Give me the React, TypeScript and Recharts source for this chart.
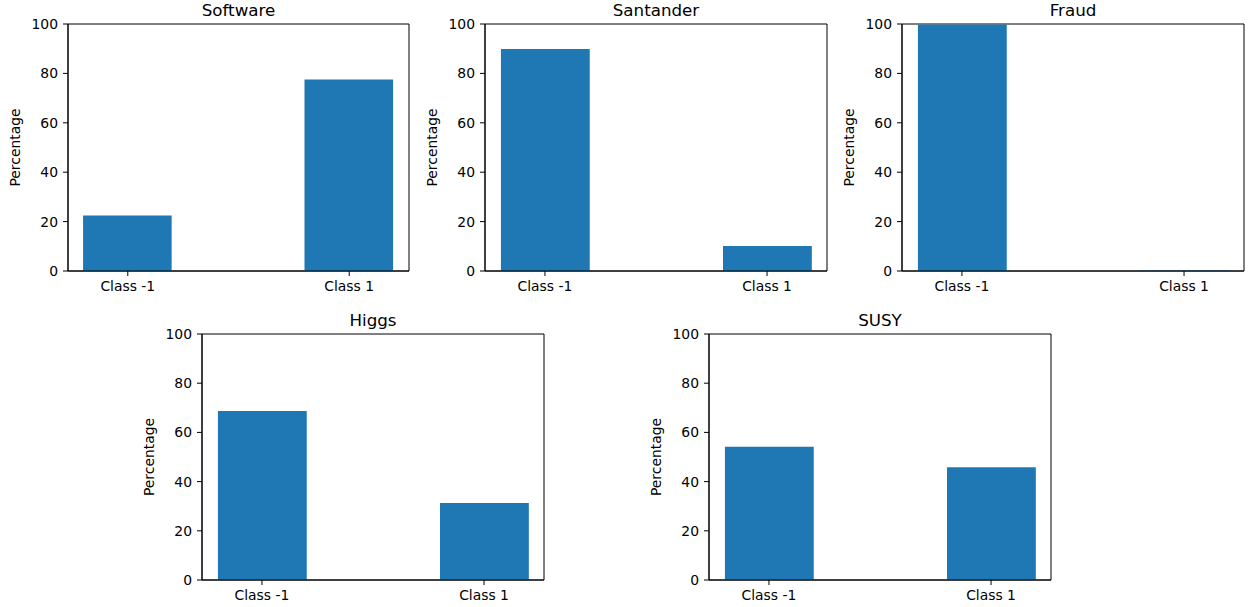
import React from 'react';
import { BarChart, Bar, XAxis, YAxis, Label, ReferenceArea } from 'recharts';

const CATEGORIES = ['Class -1', 'Class 1'];
const CATEGORY_POS = [0, 1];
const Y_TICKS = [0, 20, 40, 60, 80, 100];
const TITLES = ['Software', 'Santander', 'Fraud', 'Higgs', 'SUSY'];
const SOFTWARE = [22.5, 77.5];
const SANTANDER = [89.9, 10.1];
const FRAUD = [99.83, 0.17];
const HIGGS = [68.7, 31.3];
const SUSY = [54.2, 45.8];
const SERIES = [SOFTWARE, SANTANDER, FRAUD, HIGGS, SUSY];

// plot rectangles (layout only)
const LAYOUT = [
  { left: 68, top: 24, w: 341, h: 247 },
  { left: 485, top: 24, w: 342, h: 247 },
  { left: 902, top: 24, w: 342, h: 247 },
  { left: 202, top: 334, w: 342, h: 246 },
  { left: 709, top: 334, w: 342, h: 246 },
];

const FONT = '"DejaVu Sans", sans-serif';
const BLUE = '#1f77b4';
const X_DOMAIN: [number, number] = [-0.27, 1.27];
const Y_DOMAIN: [number, number] = [0, 100];
const BAR_WIDTH_UNITS = 0.4;
const Y_AXIS_W = 60;
const X_AXIS_H = 40;
const TOP_M = 10;
const RIGHT_M = 10;

const YLabel = (props: any) => {
  const vb = props.viewBox || {};
  const cx = vb.x + vb.width - 53;
  const cy = vb.y + vb.height / 2;
  return (
    <text
      x={cx}
      y={cy}
      transform={`rotate(-90, ${cx}, ${cy})`}
      textAnchor="middle"
      dominantBaseline="central"
      fontFamily={FONT}
      fontSize={13.9}
      fill="#000"
    >
      Percentage
    </text>
  );
};

function Panel({ idx }: { idx: number }) {
  const r = LAYOUT[idx];
  const data = CATEGORY_POS.map((x, i) => ({ x, label: CATEGORIES[i], value: SERIES[idx][i] }));
  const barSize = (BAR_WIDTH_UNITS * r.w) / (X_DOMAIN[1] - X_DOMAIN[0]);
  const tickStyle = { fontFamily: FONT, fontSize: 13.9, fill: '#000' };
  return (
    <>
      <div
        style={{
          position: 'absolute',
          left: r.left,
          top: r.top - 22,
          width: r.w,
          textAlign: 'center',
          fontFamily: FONT,
          fontSize: 16.7,
          lineHeight: '17px',
          color: '#000',
          whiteSpace: 'nowrap',
        }}
      >
        {TITLES[idx]}
      </div>
      <div style={{ position: 'absolute', left: r.left - Y_AXIS_W, top: r.top - TOP_M }}>
        <BarChart
          width={r.w + Y_AXIS_W + RIGHT_M}
          height={r.h + TOP_M + X_AXIS_H}
          data={data}
          margin={{ top: TOP_M, right: RIGHT_M, bottom: 0, left: 0 }}
        >
          <XAxis
            dataKey="x"
            type="number"
            domain={X_DOMAIN}
            ticks={CATEGORY_POS}
            allowDataOverflow
            tickFormatter={(v: number) => CATEGORIES[CATEGORY_POS.indexOf(v)] ?? ''}
            height={X_AXIS_H}
            tickSize={5}
            tickMargin={5}
            tick={tickStyle}
            axisLine={{ stroke: '#000', strokeWidth: 1 }}
            tickLine={{ stroke: '#000', strokeWidth: 1 }}
            interval={0}
          />
          <YAxis
            type="number"
            domain={Y_DOMAIN}
            ticks={Y_TICKS}
            width={Y_AXIS_W}
            tickSize={5}
            tickMargin={5}
            tick={tickStyle}
            axisLine={{ stroke: '#000', strokeWidth: 1 }}
            tickLine={{ stroke: '#000', strokeWidth: 1 }}
            interval={0}
          >
            <Label content={YLabel} />
          </YAxis>
          <Bar dataKey="value" fill={BLUE} barSize={barSize} isAnimationActive={false} />
          <ReferenceArea
            x1={X_DOMAIN[0]}
            x2={X_DOMAIN[1]}
            y1={Y_DOMAIN[0]}
            y2={Y_DOMAIN[1]}
            fill="none"
            fillOpacity={0}
            stroke="#000"
            strokeWidth={1}
            ifOverflow="extendDomain"
          />
        </BarChart>
      </div>
    </>
  );
}

export default function App() {
  return (
    <div
      style={{
        position: 'absolute',
        left: 0,
        top: 0,
        width: 1248,
        height: 607,
        background: '#fff',
        overflow: 'hidden',
      }}
    >
      {TITLES.map((_, i) => (
        <Panel key={i} idx={i} />
      ))}
    </div>
  );
}
